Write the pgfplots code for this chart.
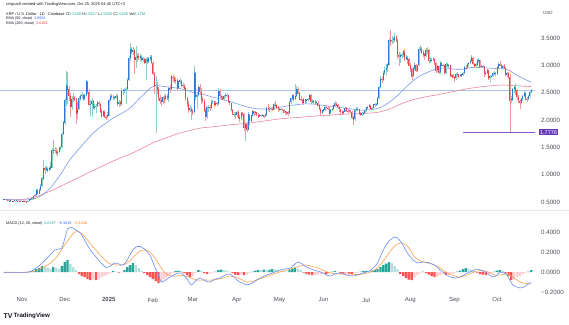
\documentclass[border=0pt]{standalone}
\usepackage{fontspec}
\setmainfont{Liberation Sans}
\usepackage{pgfplots}
\usepackage{pgfplotstable}
\pgfplotsset{compat=1.18}
\definecolor{upbody}{HTML}{2F78D0}
\definecolor{dnbody}{HTML}{E8474F}
\definecolor{upwick}{HTML}{8CCFC6}
\definecolor{dnwick}{HTML}{F09A9E}
\definecolor{ema50}{HTML}{7C98EC}
\definecolor{ema200}{HTML}{E98797}
\definecolor{macdc}{HTML}{6B8DF2}
\definecolor{sigc}{HTML}{F7A24F}
\definecolor{hdt}{HTML}{26A69A}
\definecolor{hlt}{HTML}{B2DFDB}
\definecolor{hlr}{HTML}{FFCDD2}
\definecolor{hdr}{HTML}{FF5252}
\definecolor{txtdark}{HTML}{131722}
\definecolor{txtgray}{HTML}{4C4F5A}
\definecolor{valgreen}{HTML}{26A69A}
\definecolor{valblue}{HTML}{2962FF}
\definecolor{valpink}{HTML}{F23645}
\definecolor{valorange}{HTML}{FF6D00}
\definecolor{purp}{HTML}{673AB7}
\definecolor{purpline}{HTML}{7E57C2}
\definecolor{lastline}{HTML}{AFC3E6}
\definecolor{sepc}{HTML}{E6E8EE}
\newcommand{\fs}[1]{\fontsize{#1}{#1}\selectfont}

\pgfplotstableread{
d o h l c
-13 0.541 0.549 0.536 0.545
-12 0.545 0.552 0.540 0.548
-11 0.548 0.553 0.529 0.534
-10 0.534 0.537 0.521 0.527
-9 0.527 0.530 0.505 0.515
-8 0.515 0.526 0.511 0.522
-7 0.522 0.524 0.499 0.507
-6 0.507 0.521 0.504 0.518
-5 0.518 0.526 0.514 0.522
-4 0.522 0.531 0.512 0.525
-3 0.525 0.536 0.516 0.521
-2 0.521 0.525 0.511 0.516
-1 0.516 0.521 0.499 0.506
0 0.506 0.518 0.500 0.512
1 0.512 0.518 0.505 0.510
2 0.510 0.513 0.494 0.505
3 0.505 0.511 0.495 0.502
4 0.502 0.526 0.499 0.520
5 0.520 0.561 0.514 0.547
6 0.547 0.561 0.540 0.555
7 0.555 0.571 0.545 0.560
8 0.560 0.612 0.555 0.605
9 0.605 0.652 0.590 0.622
10 0.622 0.732 0.610 0.715
11 0.715 0.745 0.638 0.650
12 0.650 0.765 0.640 0.720
13 0.720 0.823 0.700 0.790
14 0.790 0.962 0.780 0.930
15 0.930 1.270 0.900 1.120
16 1.120 1.150 1.020 1.090
17 1.090 1.160 1.060 1.110
18 1.110 1.135 1.040 1.080
19 1.080 1.150 1.060 1.110
20 1.110 1.240 1.080 1.130
21 1.130 1.480 1.120 1.450
22 1.450 1.630 1.380 1.440
23 1.440 1.500 1.390 1.440
24 1.440 1.480 1.360 1.400
25 1.400 1.450 1.350 1.410
26 1.410 1.500 1.390 1.480
27 1.480 1.530 1.450 1.500
28 1.500 1.780 1.480 1.740
29 1.740 1.980 1.720 1.950
30 1.950 2.400 1.900 2.360
31 2.360 2.900 2.260 2.630
32 2.630 2.880 2.300 2.560
33 2.560 2.620 2.340 2.440
34 2.440 2.500 2.050 2.240
35 2.240 2.440 2.190 2.380
36 2.380 2.490 2.330 2.400
37 2.400 2.440 2.340 2.380
38 2.380 2.400 1.930 2.120
39 2.120 2.330 2.010 2.200
40 2.200 2.440 2.180 2.390
41 2.390 2.480 2.340 2.430
42 2.430 2.520 2.380 2.460
43 2.460 2.470 2.350 2.390
44 2.390 2.480 2.370 2.450
45 2.450 2.730 2.430 2.700
46 2.700 2.720 2.480 2.520
47 2.520 2.560 2.260 2.280
48 2.280 2.360 2.080 2.290
49 2.290 2.400 2.050 2.340
50 2.340 2.360 2.200 2.220
51 2.220 2.300 2.180 2.230
52 2.230 2.290 2.130 2.250
53 2.250 2.340 2.230 2.320
54 2.320 2.350 2.250 2.290
55 2.290 2.310 2.130 2.160
56 2.160 2.200 2.050 2.070
57 2.070 2.170 2.060 2.150
58 2.150 2.180 2.040 2.060
59 2.060 2.100 2.000 2.050
60 2.050 2.140 2.030 2.080
61 2.080 2.380 2.070 2.360
62 2.360 2.480 2.330 2.440
63 2.440 2.480 2.380 2.420
64 2.420 2.450 2.370 2.400
65 2.400 2.430 2.360 2.410
66 2.410 2.470 2.390 2.440
67 2.440 2.480 2.260 2.300
68 2.300 2.360 2.240 2.330
69 2.330 2.350 2.250 2.290
70 2.290 2.580 2.260 2.530
71 2.530 2.560 2.460 2.540
72 2.540 2.580 2.500 2.540
73 2.540 2.600 2.300 2.570
74 2.570 2.760 2.550 2.730
75 2.730 3.170 2.710 3.130
76 3.130 3.400 3.080 3.290
77 3.290 3.340 3.200 3.250
78 3.250 3.330 3.180 3.280
79 3.280 3.300 2.850 3.100
80 3.100 3.350 2.950 3.140
81 3.140 3.230 3.070 3.170
82 3.170 3.220 3.100 3.140
83 3.140 3.210 3.080 3.160
84 3.160 3.180 3.060 3.100
85 3.100 3.150 3.070 3.120
86 3.120 3.140 3.020 3.050
87 3.050 3.130 2.730 3.110
88 3.110 3.160 3.030 3.070
89 3.070 3.150 3.050 3.120
90 3.120 3.190 3.080 3.150
91 3.150 3.180 3.030 3.050
92 3.050 3.080 2.820 2.850
93 2.850 2.880 2.470 2.620
94 2.620 2.800 1.770 2.630
95 2.630 2.700 2.470 2.560
96 2.560 2.600 2.350 2.400
97 2.400 2.450 2.300 2.360
98 2.360 2.420 2.260 2.330
99 2.330 2.430 2.300 2.410
100 2.410 2.460 2.320 2.390
101 2.390 2.470 2.360 2.430
102 2.430 2.480 2.370 2.400
103 2.400 2.600 2.330 2.580
104 2.580 2.640 2.500 2.560
105 2.560 2.820 2.540 2.790
106 2.790 2.830 2.700 2.770
107 2.770 2.800 2.680 2.720
108 2.720 2.780 2.650 2.730
109 2.730 2.750 2.550 2.580
110 2.580 2.720 2.560 2.700
111 2.700 2.760 2.650 2.720
112 2.720 2.740 2.600 2.620
113 2.620 2.680 2.590 2.630
114 2.630 2.650 2.540 2.580
115 2.580 2.600 2.350 2.400
116 2.400 2.420 2.240 2.300
117 2.300 2.340 2.120 2.180
118 2.180 2.270 2.140 2.210
119 2.210 2.230 2.000 2.170
120 2.170 2.200 2.100 2.140
121 2.140 2.990 2.130 2.860
122 2.860 2.880 2.360 2.420
123 2.420 2.520 2.200 2.460
124 2.460 2.640 2.430 2.600
125 2.600 2.650 2.450 2.510
126 2.510 2.580 2.300 2.380
127 2.380 2.420 2.320 2.350
128 2.350 2.380 2.140 2.170
129 2.170 2.220 1.980 2.060
130 2.060 2.260 2.010 2.230
131 2.230 2.270 2.150 2.240
132 2.240 2.270 2.160 2.220
133 2.220 2.360 2.200 2.330
134 2.330 2.370 2.300 2.340
135 2.340 2.350 2.240 2.280
136 2.280 2.340 2.260 2.310
137 2.310 2.330 2.250 2.290
138 2.290 2.590 2.280 2.530
139 2.530 2.560 2.400 2.440
140 2.440 2.460 2.370 2.410
141 2.410 2.430 2.360 2.380
142 2.380 2.450 2.370 2.430
143 2.430 2.490 2.400 2.450
144 2.450 2.490 2.420 2.450
145 2.450 2.460 2.320 2.340
146 2.340 2.350 2.280 2.310
147 2.310 2.320 2.160 2.180
148 2.180 2.200 2.090 2.110
149 2.110 2.150 2.060 2.110
150 2.110 2.140 2.020 2.090
151 2.090 2.160 2.060 2.140
152 2.140 2.180 2.010 2.050
153 2.050 2.090 1.960 2.030
154 2.030 2.140 2.000 2.120
155 2.120 2.140 2.070 2.110
156 2.110 2.120 1.800 1.860
157 1.860 1.960 1.610 1.920
158 1.920 1.970 1.780 1.820
159 1.820 2.140 1.810 2.100
160 2.100 2.110 1.910 1.980
161 1.980 2.100 1.960 2.080
162 2.080 2.180 2.070 2.160
163 2.160 2.170 2.080 2.120
164 2.120 2.170 2.100 2.140
165 2.140 2.150 2.070 2.100
166 2.100 2.120 2.030 2.070
167 2.070 2.110 2.050 2.080
168 2.080 2.100 2.060 2.080
169 2.080 2.110 2.070 2.090
170 2.090 2.100 2.030 2.070
171 2.070 2.120 2.050 2.090
172 2.090 2.240 2.080 2.220
173 2.220 2.290 2.170 2.200
174 2.200 2.230 2.150 2.200
175 2.200 2.240 2.170 2.210
176 2.210 2.230 2.170 2.190
177 2.190 2.310 2.180 2.280
178 2.280 2.340 2.240 2.270
179 2.270 2.290 2.200 2.230
180 2.230 2.250 2.140 2.200
181 2.200 2.240 2.170 2.200
182 2.200 2.220 2.180 2.200
183 2.200 2.210 2.170 2.190
184 2.190 2.200 2.130 2.140
185 2.140 2.170 2.100 2.150
186 2.150 2.160 2.090 2.140
187 2.140 2.160 2.080 2.120
188 2.120 2.350 2.110 2.330
189 2.330 2.400 2.300 2.390
190 2.390 2.460 2.370 2.450
191 2.450 2.470 2.350 2.380
192 2.380 2.650 2.370 2.440
193 2.440 2.620 2.420 2.560
194 2.560 2.600 2.470 2.490
195 2.490 2.510 2.370 2.380
196 2.380 2.430 2.340 2.370
197 2.370 2.390 2.300 2.320
198 2.320 2.400 2.280 2.380
199 2.380 2.390 2.290 2.340
200 2.340 2.380 2.310 2.360
201 2.360 2.410 2.340 2.380
202 2.380 2.480 2.370 2.450
203 2.450 2.470 2.300 2.340
204 2.340 2.380 2.310 2.350
205 2.350 2.370 2.300 2.330
206 2.330 2.360 2.290 2.310
207 2.310 2.350 2.280 2.320
208 2.320 2.340 2.250 2.270
209 2.270 2.290 2.180 2.200
210 2.200 2.220 2.080 2.130
211 2.130 2.190 2.110 2.170
212 2.170 2.210 2.140 2.190
213 2.190 2.250 2.170 2.230
214 2.230 2.260 2.200 2.220
215 2.220 2.250 2.180 2.210
216 2.210 2.230 2.080 2.120
217 2.120 2.200 2.110 2.180
218 2.180 2.220 2.160 2.200
219 2.200 2.280 2.180 2.260
220 2.260 2.340 2.240 2.300
221 2.300 2.330 2.250 2.270
222 2.270 2.290 2.210 2.240
223 2.240 2.260 2.150 2.200
224 2.200 2.210 2.100 2.150
225 2.150 2.180 2.100 2.120
226 2.120 2.170 2.110 2.150
227 2.150 2.240 2.140 2.220
228 2.220 2.230 2.140 2.170
229 2.170 2.200 2.130 2.160
230 2.160 2.190 2.140 2.170
231 2.170 2.190 2.120 2.150
232 2.150 2.160 2.020 2.050
233 2.050 2.070 1.910 2.010
234 2.010 2.200 1.990 2.180
235 2.180 2.230 2.160 2.190
236 2.190 2.230 2.160 2.200
237 2.200 2.210 2.100 2.120
238 2.120 2.150 2.080 2.090
239 2.090 2.140 2.080 2.120
240 2.120 2.150 2.100 2.130
241 2.130 2.200 2.120 2.180
242 2.180 2.240 2.150 2.230
243 2.230 2.260 2.190 2.230
244 2.230 2.300 2.220 2.260
245 2.260 2.270 2.190 2.210
246 2.210 2.240 2.190 2.220
247 2.220 2.300 2.210 2.280
248 2.280 2.310 2.240 2.280
249 2.280 2.320 2.260 2.290
250 2.290 2.420 2.280 2.400
251 2.400 2.620 2.390 2.600
252 2.600 2.800 2.580 2.750
253 2.750 2.780 2.680 2.740
254 2.740 2.900 2.720 2.860
255 2.860 2.970 2.830 2.910
256 2.910 3.030 2.830 2.950
257 2.950 3.040 2.880 3.010
258 3.010 3.500 2.990 3.460
259 3.460 3.650 3.350 3.440
260 3.440 3.540 3.390 3.460
261 3.460 3.520 3.400 3.470
262 3.470 3.600 3.420 3.520
263 3.520 3.560 3.420 3.450
264 3.450 3.480 3.120 3.190
265 3.190 3.240 2.980 3.150
266 3.150 3.220 3.050 3.190
267 3.190 3.230 3.140 3.190
268 3.190 3.280 3.160 3.250
269 3.250 3.300 3.080 3.120
270 3.120 3.190 3.090 3.140
271 3.140 3.170 3.030 3.110
272 3.110 3.140 2.980 3.000
273 3.000 3.040 2.880 2.940
274 2.940 2.960 2.730 2.800
275 2.800 2.970 2.780 2.950
276 2.950 3.060 2.920 3.000
277 3.000 3.030 2.880 2.900
278 2.900 3.010 2.870 3.000
279 3.000 3.340 2.990 3.300
280 3.300 3.380 3.240 3.300
281 3.300 3.340 3.200 3.240
282 3.240 3.280 3.150 3.200
283 3.200 3.230 3.100 3.170
284 3.170 3.310 3.150 3.270
285 3.270 3.330 3.200 3.280
286 3.280 3.300 3.040 3.080
287 3.080 3.150 3.040 3.100
288 3.100 3.130 3.070 3.100
289 3.100 3.150 3.080 3.110
290 3.110 3.140 3.000 3.050
291 3.050 3.060 2.860 2.910
292 2.910 3.000 2.870 2.980
293 2.980 2.990 2.840 2.870
294 2.870 3.080 2.850 3.040
295 3.040 3.070 2.980 3.000
296 3.000 3.030 2.970 3.000
297 3.000 3.010 2.830 2.860
298 2.860 3.040 2.850 3.020
299 3.020 3.050 2.970 3.000
300 3.000 3.030 2.950 3.000
301 3.000 3.010 2.780 2.810
302 2.810 2.850 2.780 2.820
303 2.820 2.840 2.760 2.780
304 2.780 2.800 2.700 2.760
305 2.760 2.860 2.740 2.840
306 2.840 2.880 2.790 2.840
307 2.840 2.850 2.760 2.800
308 2.800 2.850 2.780 2.810
309 2.810 2.850 2.790 2.830
310 2.830 2.880 2.810 2.860
311 2.860 2.990 2.850 2.960
312 2.960 3.000 2.920 2.950
313 2.950 3.040 2.930 3.020
314 3.020 3.070 2.990 3.040
315 3.040 3.110 3.020 3.080
316 3.080 3.180 3.060 3.140
317 3.140 3.150 3.000 3.030
318 3.030 3.050 2.950 2.980
319 2.980 3.040 2.960 3.010
320 3.010 3.120 2.990 3.090
321 3.090 3.130 3.050 3.090
322 3.090 3.100 2.960 2.980
323 2.980 3.000 2.950 2.980
324 2.980 3.010 2.950 2.980
325 2.980 2.990 2.790 2.850
326 2.850 2.900 2.820 2.860
327 2.860 2.940 2.840 2.910
328 2.910 2.920 2.730 2.760
329 2.760 2.830 2.700 2.800
330 2.800 2.830 2.770 2.800
331 2.800 2.870 2.790 2.850
332 2.850 2.900 2.820 2.850
333 2.850 2.880 2.800 2.850
334 2.850 2.990 2.830 2.960
335 2.960 3.060 2.940 3.020
336 3.020 3.080 2.980 3.000
337 3.000 3.020 2.930 2.950
338 2.950 3.010 2.930 2.980
339 2.980 3.020 2.940 2.960
340 2.960 2.970 2.800 2.830
341 2.830 2.880 2.790 2.860
342 2.860 2.870 2.750 2.790
343 2.790 2.840 1.7776 2.360
344 2.360 2.440 2.310 2.370
345 2.370 2.580 2.350 2.560
346 2.560 2.640 2.490 2.600
347 2.600 2.650 2.460 2.540
348 2.540 2.570 2.370 2.420
349 2.420 2.450 2.310 2.350
350 2.350 2.390 2.200 2.320
351 2.320 2.400 2.290 2.380
352 2.380 2.450 2.350 2.440
353 2.440 2.530 2.420 2.490
354 2.490 2.510 2.370 2.390
355 2.390 2.420 2.330 2.380
356 2.380 2.460 2.360 2.430
357 2.430 2.530 2.400 2.511
358 2.5108 2.5617 2.5026 2.5426
}\candles

\pgfplotstableread{
d v
-13 0.545
-6 0.540
0 0.536
5 0.540
10 0.570
15 0.640
20 0.760
25 0.930
28 1.040
32 1.210
36 1.350
40 1.470
45 1.620
50 1.760
55 1.870
60 1.960
65 2.050
70 2.120
75 2.200
78 2.270
82 2.380
86 2.480
90 2.580
94 2.630
98 2.620
104 2.600
110 2.580
115 2.550
120 2.510
126 2.480
134 2.420
140 2.380
146 2.340
152 2.290
158 2.240
164 2.210
170 2.200
176 2.210
181 2.230
187 2.260
193 2.280
199 2.295
205 2.290
211 2.270
217 2.250
223 2.230
229 2.210
235 2.190
240 2.180
245 2.190
250 2.210
255 2.270
260 2.360
265 2.470
270 2.600
275 2.720
280 2.810
286 2.880
292 2.940
298 2.950
304 2.930
310 2.930
316 2.960
322 2.960
328 2.950
334 2.940
340 2.930
343 2.900
346 2.850
350 2.790
354 2.740
358 2.6934
}\emafifty

\pgfplotstableread{
d v
-13 0.545
0 0.545
10 0.600
20 0.700
32 0.850
40 0.950
55 1.140
65 1.260
78 1.400
92 1.580
100 1.660
111 1.760
125 1.850
134 1.875
146 1.910
158 1.940
170 1.980
181 2.020
193 2.045
205 2.070
217 2.090
229 2.110
241 2.120
250 2.140
256 2.180
262 2.240
268 2.310
275 2.370
285 2.430
292 2.460
303 2.520
315 2.580
327 2.620
338 2.640
345 2.630
352 2.620
358 2.6106
}\ematwohundred

\pgfplotstableread{
d m
-13 -0.003
0 -0.004
5 0.000
10 0.040
15 0.100
19 0.160
23 0.220
26 0.230
28 0.240
30 0.330
32 0.430
35 0.445
38 0.420
41 0.390
44 0.320
48 0.220
52 0.150
55 0.100
59 0.045
62 0.060
65 0.090
68 0.080
71 0.070
74 0.120
77 0.200
80 0.250
83 0.255
86 0.230
90 0.170
93 0.060
95 0.000
98 -0.100
101 -0.080
104 -0.050
108 -0.020
112 -0.010
116 -0.070
119 -0.130
122 -0.090
125 -0.060
129 -0.090
132 -0.100
136 -0.070
139 -0.060
143 -0.030
146 -0.020
149 -0.050
152 -0.090
155 -0.110
158 -0.130
162 -0.110
165 -0.080
169 -0.050
172 -0.030
176 -0.010
181 0.020
185 0.030
189 0.040
192 0.080
194 0.100
197 0.080
200 0.050
205 0.020
210 0.000
214 -0.030
217 -0.040
220 -0.020
224 -0.010
228 -0.030
233 -0.040
237 -0.025
240 -0.010
244 0.010
247 0.040
250 0.090
254 0.220
258 0.310
262 0.350
264 0.340
267 0.290
271 0.190
275 0.120
278 0.090
282 0.100
287 0.090
291 0.060
294 0.020
298 -0.020
301 -0.050
305 -0.060
308 -0.050
312 -0.020
315 0.000
320 0.030
324 0.010
327 -0.010
331 -0.050
334 -0.030
336 0.000
339 -0.010
341 -0.030
343 -0.080
345 -0.130
348 -0.150
350 -0.160
353 -0.150
356 -0.120
358 -0.1019
}\macdline

\pgfplotstableread{
d s
-13 -0.002
0 -0.003
8 0.005
14 0.040
20 0.090
25 0.160
29 0.250
33 0.330
37 0.400
40 0.400
43 0.370
46 0.320
50 0.250
55 0.170
59 0.110
62 0.080
66 0.070
71 0.070
75 0.100
79 0.160
83 0.210
87 0.220
90 0.200
94 0.130
97 0.060
100 0.000
104 -0.040
108 -0.040
113 -0.035
117 -0.050
123 -0.080
128 -0.080
134 -0.080
140 -0.065
146 -0.040
150 -0.050
155 -0.080
158 -0.100
163 -0.090
169 -0.060
175 -0.030
181 0.000
187 0.020
193 0.050
199 0.070
204 0.055
208 0.040
213 0.010
217 -0.010
223 -0.020
229 -0.020
235 -0.025
240 -0.020
245 0.000
250 0.040
254 0.110
258 0.190
262 0.260
266 0.290
269 0.280
272 0.240
276 0.150
280 0.110
285 0.090
290 0.070
294 0.040
298 0.000
302 -0.030
307 -0.050
311 -0.040
316 -0.010
320 0.010
324 0.015
328 0.000
332 -0.030
336 -0.030
341 -0.020
345 -0.050
350 -0.100
354 -0.115
358 -0.1216
}\signalline

\pgfplotstableread{
d h k
-12 -0.003 2
-10 -0.004 3
-8 -0.005 3
-6 -0.004 2
-4 -0.003 2
-2 -0.003 3
0 -0.002 2
2 -0.002 2
4 0.002 0
6 0.008 0
8 0.015 0
10 0.03 0
12 0.04 0
14 0.06 0
16 0.05 1
18 0.045 1
20 0.035 1
22 0.05 0
24 0.045 1
26 0.03 1
28 0.06 0
30 0.10 0
32 0.12 0
34 0.08 1
36 0.05 1
38 0.02 1
40 -0.02 3
42 -0.04 3
44 -0.05 3
46 -0.07 3
48 -0.08 3
50 -0.075 2
52 -0.08 3
54 -0.07 2
56 -0.05 2
58 -0.04 2
60 -0.025 2
62 -0.01 2
64 0.01 0
66 0.005 1
68 -0.005 3
70 -0.003 2
72 0.02 0
74 0.05 0
76 0.07 0
78 0.09 0
80 0.07 1
82 0.04 1
84 0.015 1
86 -0.01 3
88 -0.03 3
90 -0.05 3
92 -0.07 3
94 -0.09 3
96 -0.11 3
98 -0.10 2
100 -0.07 2
102 -0.05 2
104 -0.03 2
106 -0.01 2
108 0.01 0
110 0.015 0
112 0.01 1
114 -0.01 3
116 -0.03 3
118 -0.05 3
120 -0.045 2
122 -0.01 2
124 0.02 0
126 0.015 1
128 -0.01 3
130 -0.02 3
132 -0.015 2
134 -0.005 2
136 0.005 0
138 0.02 0
140 0.025 0
142 0.02 1
144 0.015 1
146 0.005 1
148 -0.01 3
150 -0.025 3
152 -0.03 3
154 -0.02 2
156 -0.03 3
158 -0.025 2
160 -0.01 2
162 0.005 0
164 0.015 0
166 0.02 0
168 0.02 1
170 0.025 0
172 0.02 1
174 0.025 0
176 0.03 0
178 0.025 1
180 0.02 1
182 0.015 1
184 0.01 1
186 0.005 1
188 0.02 0
190 0.035 0
192 0.04 0
194 0.035 1
196 0.02 1
198 -0.005 3
200 -0.02 3
202 -0.025 3
204 -0.03 3
206 -0.03 2
208 -0.025 2
210 -0.02 2
212 -0.015 2
214 -0.02 3
216 -0.015 2
218 0.005 0
220 0.01 0
222 0.005 1
224 -0.01 3
226 -0.015 3
228 -0.01 2
230 -0.015 3
232 -0.02 3
234 -0.01 2
236 -0.005 2
238 0.005 0
240 0.01 0
242 0.012 0
244 0.01 1
246 0.015 0
248 0.02 0
250 0.03 0
252 0.05 0
254 0.07 0
256 0.085 0
258 0.10 0
260 0.09 1
262 0.06 1
264 0.03 1
266 -0.02 3
268 -0.04 3
270 -0.06 3
272 -0.075 3
274 -0.08 3
276 -0.05 2
278 -0.03 2
280 -0.01 2
282 0.005 0
284 -0.01 3
286 -0.025 3
288 -0.04 3
290 -0.05 3
292 -0.045 2
294 -0.03 2
296 -0.02 2
298 -0.03 3
300 -0.03 2
302 -0.02 2
304 -0.01 2
306 0.005 0
308 0.015 0
310 0.03 0
312 0.04 0
314 0.035 1
316 0.025 1
318 0.01 1
320 -0.005 3
322 -0.02 3
324 -0.025 3
326 -0.03 3
328 -0.02 2
330 -0.01 2
332 0.005 0
334 0.015 0
336 0.02 0
338 0.01 1
340 -0.01 3
342 -0.04 3
344 -0.08 3
346 -0.07 2
348 -0.05 2
350 -0.04 2
352 -0.02 2
354 -0.005 2
356 0.005 0
358 0.0197 0
}\hist

\pgfplotsset{
  tvaxis/.style={
    scale only axis, width=535bp, xmin=-15.5, xmax=360.7,
    axis line style={draw=none}, tick style={draw=none},
    yticklabel pos=right,
    yticklabel style={font=\fs{6.2}, text=txtgray, inner sep=0pt, anchor=west, xshift=6bp},
  },
}

\begin{document}
\begin{tikzpicture}
\path[use as bounding box, fill=white] (0bp,0bp) rectangle (569bp,325bp);
\draw[sepc, line width=0.6bp] (0bp,115bp) -- (569bp,115bp);

% ---------------- price pane ----------------
\begin{axis}[tvaxis, at={(0bp,115bp)}, anchor=south west, height=210bp,
  ymin=0.354, ymax=4.195, xtick=\empty,
  ytick={0.5,1,1.5,2,2.5,3,3.5},
  yticklabels={0.5000,1.0000,1.5000,2.0000,2.5000,3.0000,3.5000}]
\addplot[lastline, line width=0.5bp] coordinates {(-15.5,2.5426) (360.7,2.5426)};
\addplot[ema200, line width=0.6bp, smooth, tension=0.4] table[x=d,y=v] {\ematwohundred};
\addplot[ema50, line width=0.6bp, smooth, tension=0.4] table[x=d,y=v] {\emafifty};
% up candles
\addplot[upwick, line width=0.4bp, mark=none, quiver={u=0, v=\thisrow{h}-\thisrow{l}},
  restrict expr to domain={\thisrow{c}-\thisrow{o}}{0:10}]
  table[x=d, y=l] {\candles};
\addplot[upbody, line width=1.0bp, mark=none, quiver={u=0, v=\thisrow{c}-\thisrow{o}+0.006},
  restrict expr to domain={\thisrow{c}-\thisrow{o}}{0:10}]
  table[x=d, y=o] {\candles};
% down candles
\addplot[dnwick, line width=0.4bp, mark=none, quiver={u=0, v=\thisrow{h}-\thisrow{l}},
  restrict expr to domain={\thisrow{c}-\thisrow{o}}{-10:-0.00001}]
  table[x=d, y=l] {\candles};
\addplot[dnbody, line width=1.0bp, mark=none, quiver={u=0, v=\thisrow{c}-\thisrow{o}-0.006},
  restrict expr to domain={\thisrow{c}-\thisrow{o}}{-10:-0.00001}]
  table[x=d, y=o] {\candles};
\addplot[purpline, line width=1.1bp] coordinates {(310,1.7776) (360.7,1.7776)};
\end{axis}

% ---------------- MACD pane ----------------
\begin{axis}[tvaxis, at={(0bp,30bp)}, anchor=south west, height=83bp,
  ymin=-0.23, ymax=0.60,
  ytick={-0.2,0,0.2,0.4},
  yticklabels={−0.2000,0.0000,0.2000,0.4000},
  xtick={0,30,61,92,120,151,181,212,242,273,304,334},
  xticklabels={Nov,Dec,\textbf{2025},Feb,Mar,Apr,May,Jun,Jul,Aug,Sep,Oct},
  xticklabel style={font=\fs{6}, text=txtgray, inner sep=0pt, anchor=north, yshift=-2.5bp}]
\addplot[hdt, ybar, bar width=2.3bp, bar shift=0pt, fill=hdt, draw=none,
  restrict expr to domain={\thisrow{k}}{-0.5:0.5}] table[x=d,y=h] {\hist};
\addplot[hlt, ybar, bar width=2.3bp, bar shift=0pt, fill=hlt, draw=none,
  restrict expr to domain={\thisrow{k}}{0.5:1.5}] table[x=d,y=h] {\hist};
\addplot[hlr, ybar, bar width=2.3bp, bar shift=0pt, fill=hlr, draw=none,
  restrict expr to domain={\thisrow{k}}{1.5:2.5}] table[x=d,y=h] {\hist};
\addplot[hdr, ybar, bar width=2.3bp, bar shift=0pt, fill=hdr, draw=none,
  restrict expr to domain={\thisrow{k}}{2.5:3.5}] table[x=d,y=h] {\hist};
\addplot[sigc, line width=0.6bp, smooth, tension=0.4] table[x=d,y=s] {\signalline};
\addplot[macdc, line width=0.6bp, smooth, tension=0.4] table[x=d,y=m] {\macdline};
\end{axis}

% ---------------- texts ----------------
\node[anchor=west, inner sep=0pt, font=\fs{4}, text=txtdark] at (6bp,321bp)
  {crispus8 created with TradingView.com, Oct 25, 2025 04:40 UTC+3};
\node[anchor=west, inner sep=0pt, font=\fs{3.9}, text=txtdark] at (6bp,311.3bp)
  {XRP / U.S. Dollar · 1D · Coinbase\enspace O\textcolor{valgreen}{2.5108} H\textcolor{valgreen}{2.5617} L\textcolor{valgreen}{2.5026} C\textcolor{valgreen}{2.5426} Vol\textcolor{valgreen}{6.17M}};
\node[anchor=west, inner sep=0pt, font=\fs{3.7}, text=txtdark] at (6bp,306.2bp)
  {EMA (50, close)\enspace\textcolor{valblue}{2.6934}};
\node[anchor=west, inner sep=0pt, font=\fs{3.7}, text=txtdark] at (6bp,301bp)
  {EMA (200, close)\enspace\textcolor{valpink}{2.6106}};
\node[anchor=west, inner sep=0pt, font=\fs{3.8}, text=txtdark] at (6bp,101bp)
  {MACD (12, 26, close)\enspace\textcolor{valgreen}{0.0197}\enspace\textcolor{valblue}{−0.1019}\enspace\textcolor{valorange}{−0.1216}};
\node[anchor=west, inner sep=0pt, font=\fs{4.5}, text=txtgray] at (543bp,312bp) {USD};
\node[anchor=west, fill=purp, text=white, font=\fs{5.6}, inner xsep=1.3bp, inner ysep=1.3bp] at (538.5bp,192.8bp) {1.7776};
\node[anchor=west, inner sep=0pt, font=\fs{7}\bfseries, text=txtdark] at (3.5bp,9.3bp) {TV};
\node[anchor=west, inner sep=0pt, font=\fs{6.2}\bfseries, text=txtdark] at (13.5bp,9.3bp) {TradingView};
\end{tikzpicture}
\end{document}
